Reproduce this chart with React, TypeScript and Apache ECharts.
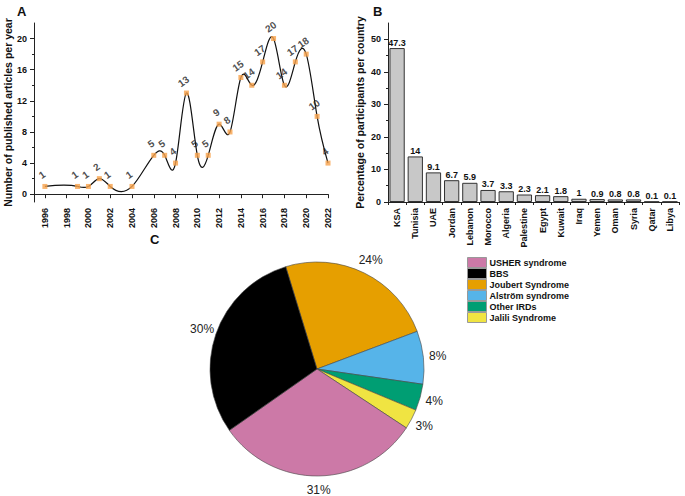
import React, { useEffect, useRef } from "react";
import * as echarts from "echarts";

const years = [1996, 1999, 2000, 2001, 2002, 2004, 2006, 2007, 2008, 2009, 2010, 2011, 2012, 2013, 2014, 2015, 2016, 2017, 2018, 2019, 2020, 2021, 2022];
const articles = [1, 1, 1, 2, 1, 1, 5, 5, 4, 13, 5, 5, 9, 8, 15, 14, 17, 20, 14, 17, 18, 10, 4];
const yearTicks = [1996, 1998, 2000, 2002, 2004, 2006, 2008, 2010, 2012, 2014, 2016, 2018, 2020, 2022];
const articleTicks = [0, 4, 8, 12, 16, 20];
const articleMinorTicks = [2, 6, 10, 14, 18];

const countries = ["KSA", "Tunisia", "UAE", "Jordan", "Lebanon", "Morocco", "Algeria", "Palestine", "Egypt", "Kuwait", "Iraq", "Yemen", "Oman", "Syria", "Qatar", "Libya"];
const percentages = [47.3, 14, 9.1, 6.7, 5.9, 3.7, 3.3, 2.3, 2.1, 1.8, 1, 0.9, 0.8, 0.8, 0.1, 0.1];
const percentTicks = [0, 10, 20, 30, 40, 50];
const percentMinorTicks = [5, 15, 25, 35, 45];

const legendOrder = ["USHER syndrome", "BBS", "Joubert Syndrome", "Alström syndrome", "Other IRDs", "Jalili Syndrome"];
const pieNames = ["Joubert Syndrome", "Alström syndrome", "Other IRDs", "Jalili Syndrome", "USHER syndrome", "BBS"];
const pieShares = [24, 8, 4, 3, 31, 30];
const pieColors = ["#e69f00", "#56b4e9", "#009e73", "#f0e442", "#cc79a7", "#000000"];

const FONT = "'Liberation Sans', Arial, sans-serif";

// natural cubic spline slopes (data space) for drawing the connecting curve
function splineSlopes(xs: number[], ys: number[]) {
  const n = xs.length;
  const h: number[] = [];
  for (let i = 0; i < n - 1; i++) h.push(xs[i + 1] - xs[i]);
  const M = new Array(n).fill(0);
  const a = new Array(n).fill(0), b = new Array(n).fill(0), c = new Array(n).fill(0), d = new Array(n).fill(0);
  for (let i = 1; i < n - 1; i++) {
    a[i] = h[i - 1];
    b[i] = 2 * (h[i - 1] + h[i]);
    c[i] = h[i];
    d[i] = 6 * ((ys[i + 1] - ys[i]) / h[i] - (ys[i] - ys[i - 1]) / h[i - 1]);
  }
  const cp = new Array(n).fill(0), dp = new Array(n).fill(0);
  for (let i = 1; i < n - 1; i++) {
    const denom = b[i] - (i > 1 ? a[i] * cp[i - 1] : 0);
    cp[i] = c[i] / denom;
    dp[i] = (d[i] - (i > 1 ? a[i] * dp[i - 1] : 0)) / denom;
  }
  for (let i = n - 2; i >= 1; i--) {
    M[i] = dp[i] - cp[i] * (i < n - 2 ? M[i + 1] : 0);
  }
  const segs: { m0: number; m1: number }[] = [];
  for (let i = 0; i < n - 1; i++) {
    const s = (ys[i + 1] - ys[i]) / h[i];
    segs.push({
      m0: s - (h[i] * (2 * M[i] + M[i + 1])) / 6,
      m1: s + (h[i] * (M[i] + 2 * M[i + 1])) / 6,
    });
  }
  return segs;
}

export default function App() {
  const ref = useRef<HTMLDivElement>(null);
  useEffect(() => {
    if (!ref.current) return;
    const chart = echarts.init(ref.current, null, { renderer: "svg" });
    const axisLine = { show: true, lineStyle: { color: "#222", width: 1 } };
    const tickLabel = { fontSize: 9, fontWeight: "bold" as const, color: "#111", fontFamily: FONT };
    const segs = splineSlopes(years, articles);
    chart.setOption({
      animation: false,
      backgroundColor: "#fff",
      textStyle: { fontFamily: FONT },
      graphic: [
        { type: "text", left: 17, top: 5, style: { text: "A", fontSize: 13, fontWeight: "bold", fill: "#111", fontFamily: FONT } },
        { type: "text", left: 373, top: 5, style: { text: "B", fontSize: 13, fontWeight: "bold", fill: "#111", fontFamily: FONT } },
        { type: "text", left: 150, top: 233, style: { text: "C", fontSize: 13, fontWeight: "bold", fill: "#111", fontFamily: FONT } },
      ],
      grid: [
        { left: 34, top: 23, width: 294, height: 179 },
        { left: 388, top: 23, width: 291, height: 179 },
      ],
      xAxis: [
        {
          type: "value", gridIndex: 0, min: 1995, max: 2022, interval: 1,
          axisLine, splitLine: { show: false },
          axisTick: { show: true, customValues: yearTicks, length: 4, lineStyle: { color: "#222" } },
          axisLabel: { ...tickLabel, customValues: yearTicks, rotate: 90, margin: 6, formatter: (v: number) => String(v) },
        },
        {
          type: "category", gridIndex: 1, data: countries,
          axisLine, splitLine: { show: false },
          axisTick: { show: true, length: 3, alignWithLabel: false, lineStyle: { color: "#222" } },
          axisLabel: { ...tickLabel, rotate: 90, margin: 6, interval: 0 },
        },
      ],
      yAxis: [
        {
          type: "value", gridIndex: 0, min: -1, max: 22, interval: 1, position: "left",
          axisLine, splitLine: { show: false },
          axisTick: { show: true, customValues: articleTicks, length: 4, lineStyle: { color: "#222" } },
          axisLabel: { ...tickLabel, customValues: articleTicks, margin: 7 },
          name: "Number of published articles per year", nameLocation: "middle", nameGap: 20,
          nameTextStyle: { fontSize: 10.5, fontWeight: "bold", color: "#111", fontFamily: FONT },
        },
        {
          type: "value", gridIndex: 0, min: -1, max: 22, interval: 1, position: "left",
          axisLine: { show: false }, splitLine: { show: false }, axisLabel: { show: false },
          axisTick: { show: true, customValues: articleMinorTicks, length: 2, lineStyle: { color: "#222" } },
        },
        {
          type: "value", gridIndex: 1, min: 0, max: 55, interval: 5, position: "left",
          axisLine, splitLine: { show: false },
          axisTick: { show: true, customValues: percentTicks, length: 4, lineStyle: { color: "#222" } },
          axisLabel: { ...tickLabel, customValues: percentTicks, margin: 7 },
          name: "Percentage of participants per country", nameLocation: "middle", nameGap: 23,
          nameTextStyle: { fontSize: 10.5, fontWeight: "bold", color: "#111", fontFamily: FONT },
        },
        {
          type: "value", gridIndex: 1, min: 0, max: 55, interval: 5, position: "left",
          axisLine: { show: false }, splitLine: { show: false }, axisLabel: { show: false },
          axisTick: { show: true, customValues: percentMinorTicks, length: 2, lineStyle: { color: "#222" } },
        },
      ],
      legend: {
        orient: "vertical", left: 462, top: 252, itemWidth: 19, itemHeight: 10, itemGap: 0,
        icon: "rect", data: legendOrder,
        itemStyle: { borderColor: "#999", borderWidth: 1 },
        textStyle: { fontSize: 9, lineHeight: 10, fontWeight: "bold", color: "#111", fontFamily: FONT, padding: [0, 0, 0, -2] },
      },
      series: [
        {
          type: "custom", xAxisIndex: 0, yAxisIndex: 0,
          data: years.map((y, i) => [y, articles[i]]),
          renderItem: (params: any, api: any) => {
            const i = params.dataIndex;
            if (i >= years.length - 1) return null;
            const x0 = years[i], x1 = years[i + 1];
            const y0 = articles[i], y1 = articles[i + 1];
            const hh = x1 - x0;
            const p0 = api.coord([x0, y0]);
            const p1 = api.coord([x1, y1]);
            const c1 = api.coord([x0 + hh / 3, y0 + (segs[i].m0 * hh) / 3]);
            const c2 = api.coord([x1 - hh / 3, y1 - (segs[i].m1 * hh) / 3]);
            return {
              type: "bezierCurve",
              shape: { x1: p0[0], y1: p0[1], x2: p1[0], y2: p1[1], cpx1: c1[0], cpy1: c1[1], cpx2: c2[0], cpy2: c2[1] },
              style: { stroke: "#111", lineWidth: 1.2, fill: "none" },
            };
          },
          silent: true,
          z: 2,
        },
        {
          type: "scatter", xAxisIndex: 0, yAxisIndex: 0,
          data: years.map((y, i) => [y, articles[i]]),
          symbol: "rect", symbolSize: 5,
          itemStyle: { color: "#f7a14a" },
          label: { show: true, position: "top", rotate: 35, distance: 5, fontSize: 10, fontWeight: "bold", color: "#222", fontFamily: FONT, formatter: (p: any) => String(p.value[1]) },
          z: 3,
        },
        {
          type: "bar", xAxisIndex: 1, yAxisIndex: 2, data: percentages, barCategoryGap: "16%",
          itemStyle: { color: "#c8c8c8", borderColor: "#333", borderWidth: 1 },
          label: { show: true, position: "top", distance: 1, fontSize: 9, fontWeight: "bold", color: "#111", fontFamily: FONT },
        },
        {
          type: "pie", center: [317, 369], radius: 107, startAngle: 107, clockwise: true,
          data: pieNames.map((n, i) => ({ name: n, value: pieShares[i], itemStyle: { color: pieColors[i] } })),
          itemStyle: { borderColor: "#444", borderWidth: 0.6 },
          label: { show: false },
          labelLine: { show: false },
          emphasis: { disabled: true },
        },
        {
          type: "pie", center: [317, 369], radius: [107, 130], startAngle: 107, clockwise: true,
          data: pieNames.map((n, i) => ({ name: n, value: pieShares[i] })),
          itemStyle: { color: "rgba(0,0,0,0)", borderWidth: 0 },
          label: { show: true, position: "inside", formatter: "{c}%", fontSize: 12, color: "#222", fontFamily: FONT },
          labelLine: { show: false },
          silent: true,
          emphasis: { disabled: true },
          legendHoverLink: false,
        },
      ],
    });
    return () => chart.dispose();
  }, []);
  return <div ref={ref} style={{ width: 685, height: 496, position: "absolute", left: 0, top: 0 }} />;
}
